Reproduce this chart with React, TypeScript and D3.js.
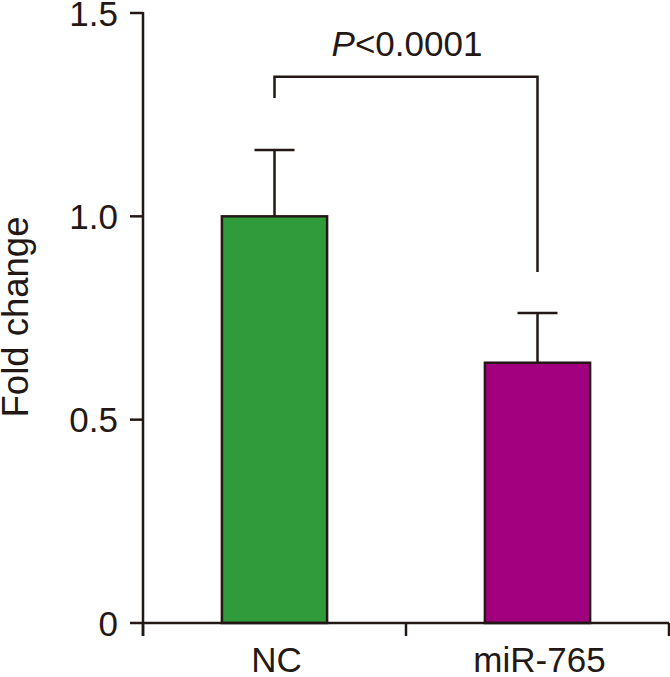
import React from "react";
import * as d3 from "d3";

const categories = ["NC", "miR-765"];
const means = [1.0, 0.64];
const errors = [0.163, 0.122];
const colors = ["#2f9b3a", "#a2007e"];
const yTicks = [0, 0.5, 1.0, 1.5];
const yTickLabels = ["0", "0.5", "1.0", "1.5"];
const bracket = { top: 1.343, leftBottom: 1.291, rightBottom: 0.863, label: "<0.0001" };

const W = 670;
const H = 677;
const INK = "#231815";
const FONT = "'Liberation Sans', Arial, sans-serif";

export default function App() {
  const x0 = 143, x1 = 669, yBase = 623, yTop = 13;
  const x = d3.scaleBand<string>().domain(categories).range([x0, x1]).paddingInner(0.6).paddingOuter(0.3);
  const y = d3.scaleLinear().domain([0, 1.5]).range([yBase, yTop]);
  const step = (x1 - x0) / categories.length;
  const cx = (c: string) => (x(c) as number) + x.bandwidth() / 2;
  const capW = 40;
  const xTickPos = d3.range(categories.length + 1).map((i) => x0 + i * step);

  return (
    <svg width={W} height={H} style={{ position: "absolute", left: 0, top: 0, background: "#fff" }} fontFamily={FONT}>
      {categories.map((c, i) => (
        <g key={c}>
          <line x1={cx(c)} x2={cx(c)} y1={y(means[i])} y2={y(means[i] + errors[i])} stroke={INK} strokeWidth={2.5} />
          <line x1={cx(c) - capW / 2} x2={cx(c) + capW / 2} y1={y(means[i] + errors[i])} y2={y(means[i] + errors[i])} stroke={INK} strokeWidth={2.5} />
          <rect x={x(c)} y={y(means[i])} width={x.bandwidth()} height={yBase - y(means[i])} fill={colors[i]} stroke={INK} strokeWidth={2.5} />
        </g>
      ))}
      <line x1={x0} x2={x0} y1={yTop - 1} y2={yBase + 13} stroke={INK} strokeWidth={2.5} />
      {yTicks.map((t, i) => (
        <g key={t}>
          <line x1={x0 - 13} x2={x0} y1={y(t)} y2={y(t)} stroke={INK} strokeWidth={2.5} />
          <text x={118} y={y(t)} dy="0.36em" textAnchor="end" fontSize={35} fill={INK}>{yTickLabels[i]}</text>
        </g>
      ))}
      <line x1={x0} x2={x1} y1={yBase} y2={yBase} stroke={INK} strokeWidth={2.5} />
      {xTickPos.map((p, i) => (
        <line key={i} x1={p} x2={p} y1={yBase} y2={yBase + 13} stroke={INK} strokeWidth={2.5} />
      ))}
      {categories.map((c) => (
        <text key={c} x={cx(c) + 2} y={672} textAnchor="middle" fontSize={35} fill={INK}>{c}</text>
      ))}
      <text transform={`translate(28,317) rotate(-90)`} textAnchor="middle" fontSize={36.5} fill={INK}>Fold change</text>
      <path
        d={`M${cx(categories[0])},${y(bracket.leftBottom)} V${y(bracket.top)} H${cx(categories[1])} V${y(bracket.rightBottom)}`}
        fill="none" stroke={INK} strokeWidth={2.5}
      />
      <text x={(cx(categories[0]) + cx(categories[1])) / 2 + 1} y={56} textAnchor="middle" fontSize={35} fill={INK}>
        <tspan fontStyle="italic">P</tspan>{bracket.label}
      </text>
    </svg>
  );
}
